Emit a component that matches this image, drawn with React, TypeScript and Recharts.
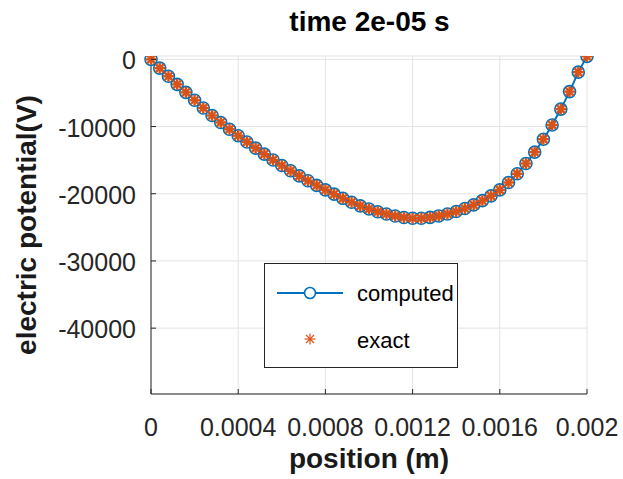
import React from "react";
import { CartesianGrid, Line, LineChart, XAxis, YAxis } from "recharts";

// node positions (m) and potential (V) at t = 2e-05 s
const positions = [
  0, 0.00004, 0.00008, 0.00012, 0.00016, 0.0002, 0.00024, 0.00028, 0.00032, 0.00036,
  0.0004, 0.00044, 0.00048, 0.00052, 0.00056, 0.0006, 0.00064, 0.00068, 0.00072, 0.00076,
  0.0008, 0.00084, 0.00088, 0.00092, 0.00096, 0.001, 0.00104, 0.00108, 0.00112, 0.00116,
  0.0012, 0.00124, 0.00128, 0.00132, 0.00136, 0.0014, 0.00144, 0.00148, 0.00152, 0.00156,
  0.0016, 0.00164, 0.00168, 0.00172, 0.00176, 0.0018, 0.00184, 0.00188, 0.00192, 0.00196,
  0.002,
];

const computedV = [
  0, -1300, -2520, -3720, -4910, -6090, -7240, -8350, -9390, -10400,
  -11360, -12300, -13210, -14110, -14970, -15800, -16580, -17340, -18060, -18760,
  -19420, -20060, -20680, -21260, -21800, -22260, -22680, -23020, -23310, -23540,
  -23650, -23640, -23520, -23300, -23010, -22650, -22200, -21660, -21030, -20310,
  -19430, -18330, -17030, -15500, -13800, -11880, -9760, -7400, -4800, -1900,
  450,
];

const exactV = [
  0, -1300, -2520, -3720, -4910, -6090, -7240, -8350, -9390, -10400,
  -11360, -12300, -13210, -14110, -14970, -15800, -16580, -17340, -18060, -18760,
  -19420, -20060, -20680, -21260, -21800, -22260, -22680, -23020, -23310, -23540,
  -23650, -23640, -23520, -23300, -23010, -22650, -22200, -21660, -21030, -20310,
  -19430, -18330, -17030, -15500, -13800, -11880, -9760, -7400, -4800, -1900,
  450,
];

const xTicks = [0, 0.0004, 0.0008, 0.0012, 0.0016, 0.002];
const yTicks = [-40000, -30000, -20000, -10000, 0];

const data = positions.map((x, i) => ({ x, computed: computedV[i], exact: exactV[i] }));

const FONT = '"Liberation Sans", Arial, Helvetica, sans-serif';
const AXIS = "#262626";
const BLUE = "#0072BD";
const ORANGE = "#D95319";
const TICK_LEN = 5;

const Asterisk = ({ cx, cy, s = 5.5, w = 2.4 }: { cx: number; cy: number; s?: number; w?: number }) => {
  const d = s * 0.72;
  return (
    <g stroke={ORANGE} strokeWidth={w}>
      <line x1={cx - s} y1={cy} x2={cx + s} y2={cy} />
      <line x1={cx} y1={cy - s} x2={cx} y2={cy + s} />
      <line x1={cx - d} y1={cy - d} x2={cx + d} y2={cy + d} />
      <line x1={cx - d} y1={cy + d} x2={cx + d} y2={cy - d} />
    </g>
  );
};

const BottomTick = (props: any) => {
  const { x, y, payload } = props;
  return (
    <g>
      <line x1={x} y1={y} x2={x} y2={y - TICK_LEN} stroke={AXIS} />
      <text x={x} y={y + 42} textAnchor="middle" fill={AXIS} fontSize={25} fontFamily={FONT}>
        {String(payload.value)}
      </text>
    </g>
  );
};

const TopTick = (props: any) => {
  const { x, y } = props;
  return <line x1={x} y1={y} x2={x} y2={y + TICK_LEN} stroke={AXIS} />;
};

const LeftTick = (props: any) => {
  const { x, y, payload } = props;
  return (
    <g>
      <line x1={x} y1={y} x2={x + TICK_LEN} y2={y} stroke={AXIS} />
      <text x={x - 15} y={y + 10} textAnchor="end" fill={AXIS} fontSize={25} fontFamily={FONT}>
        {String(payload.value)}
      </text>
    </g>
  );
};

const RightTick = (props: any) => {
  const { x, y } = props;
  return <line x1={x} y1={y} x2={x - TICK_LEN} y2={y} stroke={AXIS} />;
};

export default function App() {
  return (
    <div style={{ position: "absolute", left: 0, top: 0, width: 623, height: 479, background: "#fff" }}>
      <LineChart
        width={623}
        height={479}
        data={data}
        margin={{ top: 56, right: 36, bottom: 0, left: 0 }}
      >
        <CartesianGrid stroke="#e3e3e3" strokeWidth={1} />
        <XAxis
          dataKey="x"
          type="number"
          domain={[0, 0.002]}
          ticks={xTicks}
          interval={0}
          height={85}
          tickSize={0}
          tickMargin={0}
          tickLine={false}
          axisLine={{ stroke: AXIS }}
          tick={<BottomTick />}
          label={{
            content: (p: any) => (
              <text
                x={p.viewBox.x + p.viewBox.width / 2}
                y={p.viewBox.y + 74}
                textAnchor="middle"
                fontSize={28}
                fontWeight="bold"
                fontFamily={FONT}
                fill="#1a1a1a"
              >
                position (m)
              </text>
            ),
          }}
        />
        <XAxis
          xAxisId="top"
          orientation="top"
          type="number"
          domain={[0, 0.002]}
          ticks={xTicks}
          interval={0}
          height={0}
          tickSize={0}
          tickMargin={0}
          tickLine={false}
          axisLine={{ stroke: AXIS }}
          tick={<TopTick />}
        />
        <YAxis
          type="number"
          domain={[-49800, 500]}
          ticks={yTicks}
          interval={0}
          width={151}
          tickSize={0}
          tickMargin={0}
          tickLine={false}
          axisLine={{ stroke: AXIS }}
          tick={<LeftTick />}
          allowDataOverflow
          label={{
            content: (p: any) => {
              const cy = p.viewBox.y + p.viewBox.height / 2;
              return (
                <text
                  x={36}
                  y={cy}
                  transform={`rotate(-90, 36, ${cy})`}
                  textAnchor="middle"
                  fontSize={28}
                  fontWeight="bold"
                  fontFamily={FONT}
                  fill="#1a1a1a"
                >
                  electric potential(V)
                </text>
              );
            },
          }}
        />
        <YAxis
          yAxisId="right"
          orientation="right"
          type="number"
          domain={[-49800, 500]}
          ticks={yTicks}
          interval={0}
          width={0}
          tickSize={0}
          tickMargin={0}
          tickLine={false}
          axisLine={{ stroke: AXIS }}
          tick={<RightTick />}
          allowDataOverflow
        />
        <Line
          dataKey="computed"
          stroke={BLUE}
          strokeWidth={2}
          isAnimationActive={false}
          dot={(p: any) => (
            <circle key={`c${p.index}`} cx={p.cx} cy={p.cy} r={6} fill="none" stroke={BLUE} strokeWidth={1.6} />
          )}
          activeDot={false}
        />
        <Line
          dataKey="exact"
          stroke="none"
          isAnimationActive={false}
          dot={(p: any) => <Asterisk key={`e${p.index}`} cx={p.cx} cy={p.cy} />}
          activeDot={false}
        />
      </LineChart>

      <div
        style={{
          position: "absolute",
          left: 0,
          top: 0,
          width: 623,
          textAlign: "center",
          fontFamily: FONT,
          fontWeight: "bold",
          fontSize: 28,
          lineHeight: "44px",
          color: "#000",
          paddingLeft: 116,
          boxSizing: "border-box",
        }}
      >
        time 2e-05 s
      </div>

      <div
        style={{
          position: "absolute",
          left: 264,
          top: 263,
          width: 194,
          height: 105,
          border: `1px solid ${AXIS}`,
          background: "#fff",
          boxSizing: "border-box",
        }}
      >
        <svg width={192} height={103} style={{ display: "block" }}>
          <line x1={12} y1={29} x2={78} y2={29} stroke={BLUE} strokeWidth={2} />
          <circle cx={45} cy={29} r={5.5} fill="#fff" stroke={BLUE} strokeWidth={1.6} />
          <text x={92} y={37} fontSize={22} fontFamily={FONT} fill="#000">
            computed
          </text>
          <Asterisk cx={45} cy={75} s={5.5} w={1.2} />
          <text x={92} y={84} fontSize={22} fontFamily={FONT} fill="#000">
            exact
          </text>
        </svg>
      </div>
    </div>
  );
}
